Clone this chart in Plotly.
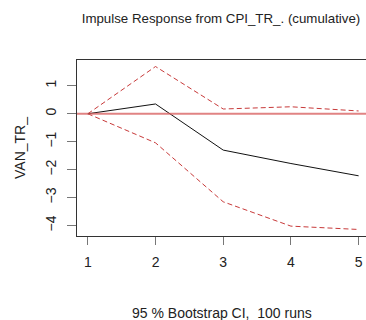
import plotly.graph_objects as go

steps = [1, 2, 3, 4, 5]
response = [0.0, 0.35, -1.30, -1.78, -2.22]
upper = [0.0, 1.69, 0.17, 0.25, 0.10]
lower = [0.0, -1.04, -3.15, -4.02, -4.14]
x_ticks = [1, 2, 3, 4, 5]
y_ticks = [-4, -3, -2, -1, 0, 1]

title_text = "Impulse Response from CPI_TR_. (cumulative)"
ylab = "VAN_TR_"
xlab = "95 % Bootstrap CI,  100 runs"

FONT = "Liberation Sans, Arial, sans-serif"
dash_col = "#c83a3a"

fig = go.Figure()
fig.add_trace(go.Scatter(x=steps, y=upper, mode="lines",
                         line=dict(color=dash_col, width=1, dash="5px,3px")))
fig.add_trace(go.Scatter(x=steps, y=lower, mode="lines",
                         line=dict(color=dash_col, width=1, dash="5px,3px")))
fig.add_hline(y=0, line=dict(color="rgba(215,90,90,0.75)", width=2))
fig.add_trace(go.Scatter(x=steps, y=response, mode="lines",
                         line=dict(color="#111111", width=1)))

ymin = min(lower); ymax = max(upper)
pad = 0.04 * (ymax - ymin)

fig.update_layout(
    width=366, height=320,
    margin=dict(l=77, r=0, t=60, b=84),
    paper_bgcolor="white", plot_bgcolor="white",
    showlegend=False,
    font=dict(family=FONT, size=14, color="#222222"),
    title=dict(text=title_text, x=221/366, xanchor="center", xref="container",
               y=1 - 18/320, yanchor="middle", yref="container",
               font=dict(size=13.3, color="#222222")),
    xaxis=dict(range=[0.84, 5.109], tickvals=x_ticks, showgrid=False, zeroline=False,
               showline=True, linecolor="#333333", linewidth=1, mirror=True,
               ticks="outside", ticklen=8, tickcolor="#777777", tickwidth=1,
               ticklabelstandoff=5,
               tickfont=dict(size=14, color="#222222")),
    yaxis=dict(range=[ymin - pad, ymax + pad], tickvals=y_ticks, showgrid=False,
               zeroline=False, showline=True, linecolor="#333333", linewidth=1,
               ticks="outside", ticklen=9, tickcolor="#777777", tickwidth=1,
               tickangle=-90, ticklabelstandoff=5,
               tickfont=dict(size=14, color="#222222")),
    annotations=[
        dict(text=xlab, x=0.5, xref="paper", y=-(312.7 - 236) / 176, yref="paper",
             xanchor="center", yanchor="middle", showarrow=False,
             font=dict(size=14, color="#222222")),
        dict(text=ylab, x=(20 - 77) / 289, xref="paper", y=0.5, yref="paper",
             xanchor="center", yanchor="middle", textangle=-90, showarrow=False,
             font=dict(size=14, color="#222222")),
    ],
)

fig.write_html("out.html")
